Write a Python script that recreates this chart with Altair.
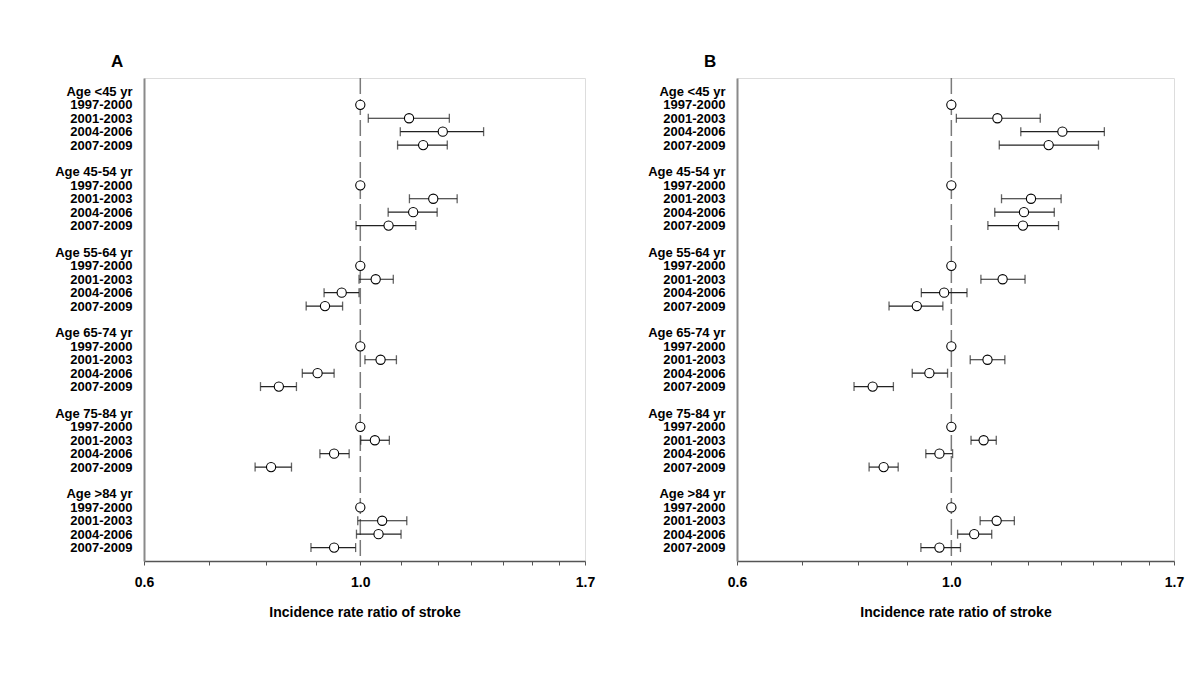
import json
import altair as alt
import pandas as pd

# ---------------- data ----------------
groups = ["Age <45 yr", "Age 45-54 yr", "Age 55-64 yr", "Age 65-74 yr", "Age 75-84 yr", "Age >84 yr"]
periods = ["1997-2000", "2001-2003", "2004-2006", "2007-2009"]

# Panel A: incidence rate ratio and 95% CI (rows: age groups; cols: periods)
a_irr = [[1.0, 1.122, 1.215, 1.160],
         [1.0, 1.188, 1.133, 1.069],
         [1.0, 1.037, 0.957, 0.920],
         [1.0, 1.049, 0.904, 0.825],
         [1.0, 1.035, 0.940, 0.810],
         [1.0, 1.053, 1.044, 0.940]]
a_lo = [[None, 1.019, 1.099, 1.092],
        [None, 1.123, 1.068, 0.990],
        [None, 0.997, 0.918, 0.880],
        [None, 1.011, 0.872, 0.790],
        [None, 1.001, 0.909, 0.780],
        [None, 0.994, 0.991, 0.890]]
a_hi = [[None, 1.234, 1.338, 1.228],
        [None, 1.257, 1.199, 1.140],
        [None, 1.081, 0.997, 0.959],
        [None, 1.089, 0.940, 0.860],
        [None, 1.071, 0.974, 0.850],
        [None, 1.116, 1.101, 0.989]]

# Panel B
b_irr = [[1.0, 1.116, 1.303, 1.261],
         [1.0, 1.209, 1.189, 1.186],
         [1.0, 1.130, 0.983, 0.921],
         [1.0, 1.090, 0.949, 0.829],
         [1.0, 1.080, 0.972, 0.851],
         [1.0, 1.114, 1.056, 0.972]]
b_lo = [[None, 1.012, 1.180, 1.121],
        [None, 1.127, 1.109, 1.091],
        [None, 1.073, 0.931, 0.862],
        [None, 1.046, 0.911, 0.793],
        [None, 1.048, 0.941, 0.822],
        [None, 1.071, 1.015, 0.930]]
b_hi = [[None, 1.236, 1.440, 1.420],
        [None, 1.299, 1.278, 1.291],
        [None, 1.192, 1.038, 0.980],
        [None, 1.136, 0.991, 0.871],
        [None, 1.113, 1.003, 0.881],
        [None, 1.162, 1.101, 1.022]]

x_ticks = [0.6, 0.7, 0.8, 0.9, 1.0, 1.1, 1.2, 1.3, 1.4, 1.5, 1.6, 1.7]
x_labels = [0.6, 1.0, 1.7]
panel_titles = ["A", "B"]
x_title = "Incidence rate ratio of stroke"

# ---------------- styling ----------------
FONT = "Liberation Sans"
NBSP = "\u00a0"
label_pad = [0, 1, 2, 3, 4, 5]  # visual drift of period labels, per group
ROWS_PER_GROUP = 6
N_ROWS = ROWS_PER_GROUP * len(groups) - 1
LABEL_SIZE = 13

row_labels = [""] * N_ROWS
for g, name in enumerate(groups):
    row_labels[g * ROWS_PER_GROUP] = name
    for p, per in enumerate(periods):
        row_labels[g * ROWS_PER_GROUP + 1 + p] = per + NBSP * label_pad[g]

label_expr = json.dumps(row_labels, ensure_ascii=False) + "[datum.value]"
x_label_expr = " || ".join(f"abs(datum.value - {v}) < 0.001" for v in x_labels)
x_label_expr = f"({x_label_expr}) ? format(datum.value, '.1f') : ''"


def build_frames(irr, lo, hi):
    pts, ci, caps = [], [], []
    for g in range(len(groups)):
        for p in range(len(periods)):
            r = g * ROWS_PER_GROUP + 1 + p
            pts.append({"row": r, "irr": irr[g][p]})
            if lo[g][p] is not None:
                ci.append({"row": r, "lo": lo[g][p], "hi": hi[g][p]})
                caps.append({"row": r, "v": lo[g][p]})
                caps.append({"row": r, "v": hi[g][p]})
    return pd.DataFrame(pts), pd.DataFrame(ci), pd.DataFrame(caps)


def panel(irr, lo, hi, title, width):
    pts, ci, caps = build_frames(irr, lo, hi)
    xscale = alt.Scale(type="log", domain=[0.6, 1.7], nice=False)
    yscale = alt.Scale(domain=[-1, N_ROWS], reverse=True, nice=False, zero=False)
    xaxis = alt.Axis(values=x_ticks, labelExpr=x_label_expr, title=x_title, grid=False,
                     labelFlush=False, labelFont=FONT, labelFontSize=14, labelFontWeight="bold",
                     labelColor="black", labelPadding=10, tickSize=4, tickColor="#555555",
                     domainColor="#555555", domainWidth=1.5, titleFont=FONT, titleFontSize=14,
                     titleFontWeight="bold", titleColor="black", titlePadding=16)
    yaxis = alt.Axis(values=list(range(N_ROWS)), labelExpr=label_expr, title=None, grid=False,
                     ticks=False, labelFont=FONT, labelFontSize=LABEL_SIZE, labelFontWeight="bold",
                     labelColor="black", labelPadding=12, labelAlign="right", labelBaseline="middle",
                     domainColor="#8a8a8a", domainWidth=2, labelOverlap=False)

    ref = alt.Chart(pd.DataFrame({"v": [1.0]})).mark_rule(
        color="#7a7a7a", strokeWidth=1.5, strokeDash=[16, 5]
    ).encode(x=alt.X("v:Q", scale=xscale, axis=xaxis))

    bars = alt.Chart(ci).mark_rule(color="#222222", strokeWidth=1.2).encode(
        x=alt.X("lo:Q", scale=xscale, axis=xaxis),
        x2="hi:Q",
        y=alt.Y("row:Q", scale=yscale, axis=yaxis),
    )
    tick_marks = alt.Chart(caps).mark_tick(orient="vertical", color="#222222", size=9, thickness=1.3).encode(
        x=alt.X("v:Q", scale=xscale, axis=xaxis),
        y=alt.Y("row:Q", scale=yscale, axis=yaxis),
    )
    points = alt.Chart(pts).mark_point(shape="circle", size=85, filled=False, fill="white",
                                       fillOpacity=1, stroke="black", strokeWidth=1.1, opacity=1).encode(
        x=alt.X("irr:Q", scale=xscale, axis=xaxis),
        y=alt.Y("row:Q", scale=yscale, axis=yaxis),
    )
    return alt.layer(ref, bars, tick_marks, points).properties(
        width=width, height=483,
        title=alt.TitleParams(title, anchor="start", frame="group", dx=-33, fontSize=17,
                              fontWeight="bold", font=FONT, color="black",
                              baseline="alphabetic", offset=-7),
    )


chart_a = panel(a_irr, a_lo, a_hi, panel_titles[0], 441)
chart_b = panel(b_irr, b_lo, b_hi, panel_titles[1], 437)

chart = alt.hconcat(chart_a, chart_b, spacing=152, bounds="flush").properties(
    padding={"left": 46, "top": 44, "right": 5, "bottom": 5}
).configure_view(stroke=None).configure(background="white")

chart.save("out.html", embed_options={"renderer": "svg", "actions": False})
